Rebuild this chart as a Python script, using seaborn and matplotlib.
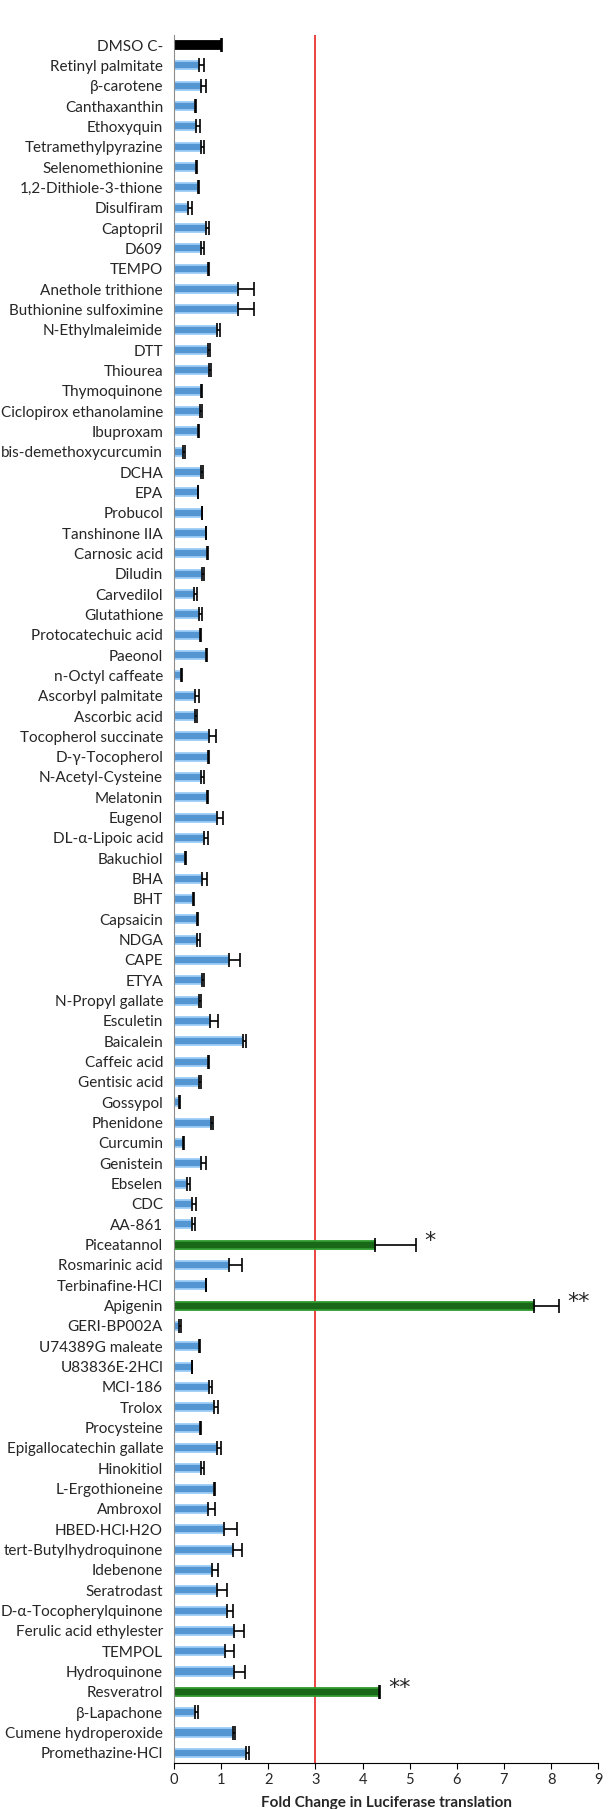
import numpy as np
import pandas as pd
import matplotlib
matplotlib.use("Agg")
import matplotlib.pyplot as plt
import seaborn as sns

# compounds, top to bottom
compounds = [
    "DMSO C-", "Retinyl palmitate", "β-carotene", "Canthaxanthin", "Ethoxyquin",
    "Tetramethylpyrazine", "Selenomethionine", "1,2-Dithiole-3-thione", "Disulfiram",
    "Captopril", "D609", "TEMPO", "Anethole trithione", "Buthionine sulfoximine",
    "N-Ethylmaleimide", "DTT", "Thiourea", "Thymoquinone", "Ciclopirox ethanolamine",
    "Ibuproxam", "bis-demethoxycurcumin", "DCHA", "EPA", "Probucol", "Tanshinone IIA",
    "Carnosic acid", "Diludin", "Carvedilol", "Glutathione", "Protocatechuic acid",
    "Paeonol", "n-Octyl caffeate", "Ascorbyl palmitate", "Ascorbic acid",
    "Tocopherol succinate", "D-γ-Tocopherol", "N-Acetyl-Cysteine", "Melatonin",
    "Eugenol", "DL-α-Lipoic acid", "Bakuchiol", "BHA", "BHT", "Capsaicin", "NDGA",
    "CAPE", "ETYA", "N-Propyl gallate", "Esculetin", "Baicalein", "Caffeic acid",
    "Gentisic acid", "Gossypol", "Phenidone", "Curcumin", "Genistein", "Ebselen",
    "CDC", "AA-861", "Piceatannol", "Rosmarinic acid", "Terbinafine·HCl", "Apigenin",
    "GERI-BP002A", "U74389G maleate", "U83836E·2HCl", "MCI-186", "Trolox",
    "Procysteine", "Epigallocatechin gallate", "Hinokitiol", "L-Ergothioneine",
    "Ambroxol", "HBED·HCl·H2O", "tert-Butylhydroquinone", "Idebenone", "Seratrodast",
    "D-α-Tocopherylquinone", "Ferulic acid ethylester", "TEMPOL", "Hydroquinone",
    "Resveratrol", "β-Lapachone", "Cumene hydroperoxide", "Promethazine·HCl",
]

fold_change = [
    1.00, 0.53, 0.57, 0.45, 0.46, 0.56, 0.46, 0.50, 0.30,
    0.68, 0.57, 0.71, 1.36, 1.36, 0.91, 0.71, 0.75, 0.56, 0.55,
    0.51, 0.18, 0.57, 0.50, 0.59, 0.67, 0.69, 0.59, 0.42, 0.53,
    0.55, 0.67, 0.14, 0.45, 0.45, 0.75, 0.71, 0.56, 0.69,
    0.90, 0.63, 0.22, 0.59, 0.40, 0.48, 0.48, 1.17, 0.59, 0.53,
    0.77, 1.47, 0.71, 0.53, 0.10, 0.79, 0.18, 0.57, 0.28, 0.38,
    0.38, 4.27, 1.16, 0.67, 7.64, 0.11, 0.53, 0.37, 0.75, 0.85,
    0.55, 0.91, 0.57, 0.85, 0.71, 1.06, 1.26, 0.81, 0.91,
    1.13, 1.28, 1.08, 1.28, 4.34, 0.45, 1.24, 1.52,
]

sem = [
    0.02, 0.11, 0.11, 0.01, 0.09, 0.08, 0.02, 0.02, 0.08,
    0.05, 0.07, 0.04, 0.34, 0.34, 0.07, 0.05, 0.04, 0.03, 0.04,
    0.02, 0.04, 0.04, 0.01, 0.01, 0.01, 0.02, 0.04, 0.06, 0.06,
    0.02, 0.02, 0.02, 0.08, 0.03, 0.14, 0.02, 0.07, 0.03,
    0.14, 0.08, 0.04, 0.10, 0.02, 0.03, 0.07, 0.23, 0.05, 0.03,
    0.17, 0.06, 0.02, 0.04, 0.02, 0.04, 0.02, 0.10, 0.05, 0.08,
    0.07, 0.86, 0.27, 0.01, 0.53, 0.03, 0.02, 0.01, 0.06, 0.08,
    0.01, 0.08, 0.06, 0.02, 0.15, 0.28, 0.18, 0.12, 0.21,
    0.13, 0.20, 0.20, 0.22, 0.03, 0.06, 0.05, 0.06,
]

significance = {"Piceatannol": "*", "Apigenin": "**", "Resveratrol": "**"}
control = "DMSO C-"
threshold = 3

df = pd.DataFrame({"compound": compounds, "fold": fold_change, "sem": sem})
palette = {}
edges = []
for c in compounds:
    if c == control:
        palette[c] = "black"
        edges.append("black")
    elif c in significance:
        palette[c] = "#0b750b"
        edges.append("#2f9a2f")
    else:
        palette[c] = "#3f97e6"
        edges.append("#9ccdf7")

sns.set_style("white")
plt.rcParams["font.family"] = ["Lato", "DejaVu Sans"]

fig = plt.figure(figsize=(6.11, 18.09), dpi=100)
ax = fig.add_axes([0.285, 0.0254, 0.694, 0.9553])

sns.barplot(data=df, x="fold", y="compound", hue="compound", palette=palette,
            legend=False, errorbar=None, width=0.4, linewidth=1.3, ax=ax)
for patch, ec in zip(ax.patches, edges):
    patch.set_edgecolor(ec)

# one-sided error bars (plus only)
ypos = np.arange(len(compounds))
ax.errorbar(df["fold"], ypos, xerr=[np.zeros(len(df)), df["sem"]], fmt="none",
            ecolor="black", elinewidth=1.2, capsize=5, capthick=1.2)

# significance stars
for name, mark in significance.items():
    i = compounds.index(name)
    top = fold_change[i] + sem[i]
    ax.text(top + 0.17, i - 0.2, mark, fontsize=16, ha="left", va="center",
            family="DejaVu Sans")

ax.axvline(threshold, color="#e8231f", linewidth=1.2, zorder=0)

ax.set_xlim(0, 9)
ax.set_ylim(len(compounds) - 0.5, -0.5)
ax.set_xticks(range(0, 10))
ax.set_yticks(ypos)
ax.set_yticks(np.arange(-0.5, len(compounds), 1), minor=True)
ax.tick_params(axis="y", which="major", length=0, labelsize=11, pad=8)
ax.tick_params(axis="y", which="minor", length=4, color="#8c8c8c", width=1)
ax.tick_params(axis="x", which="major", length=4, labelsize=10.5, color="black",
               direction="out", bottom=True)

ax.set_xlabel("Fold Change in Luciferase translation", fontsize=11,
              fontweight="bold", labelpad=6)
ax.set_ylabel("")

sns.despine(ax=ax)
ax.spines["left"].set_color("#8c8c8c")
ax.spines["bottom"].set_color("black")
ax.grid(False)

plt.savefig("out.png", dpi=100)
